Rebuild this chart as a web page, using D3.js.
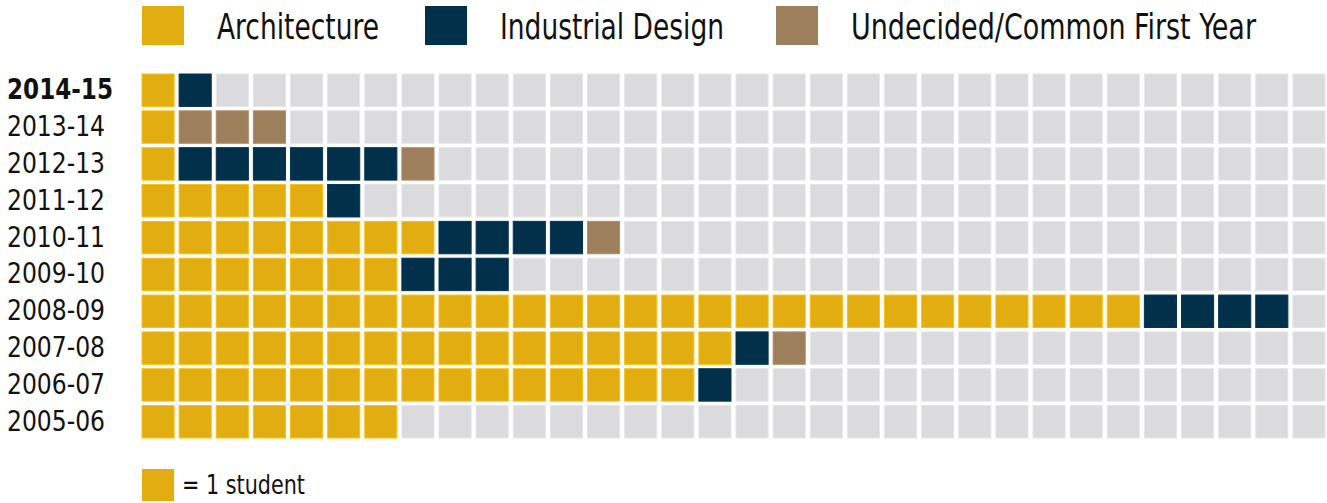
<!DOCTYPE html>
<html>
<head>
<meta charset="utf-8">
<script src="https://cdn.jsdelivr.net/npm/d3@7"></script>
<style>
  body { margin: 0; background: #fff; }
  text { font-family: "DejaVu Sans Condensed", "Roboto", sans-serif; fill: #111; }
</style>
</head>
<body>
<script>
const width = 1327;
const height = 503;

// one row per academic year, counts of students
const years = ["2014-15", "2013-14", "2012-13", "2011-12", "2010-11", "2009-10", "2008-09", "2007-08", "2006-07", "2005-06"];
const architecture = [1, 1, 1, 5, 8, 7, 27, 16, 15, 7];
const industrial = [1, 0, 6, 1, 4, 3, 4, 1, 1, 0];
const undecided = [0, 3, 1, 0, 1, 0, 0, 1, 0, 0];

const categories = ["Architecture", "Industrial Design", "Undecided/Common First Year"];
const colors = ["#e1ad11", "#01304a", "#9e7f5c"];
const emptyColor = "#dbdbdd";
const columns = 32;

const svg = d3.select("body")
  .append("svg")
  .attr("width", width)
  .attr("height", height);

const x = d3.scaleBand()
  .domain(d3.range(columns))
  .range([142, 1325])
  .paddingInner(0.135)
  .paddingOuter(0);

const y = d3.scaleBand()
  .domain(years)
  .range([74, 438])
  .paddingInner(0.12)
  .paddingOuter(0);

// build a cell list for each row: category index or -1 for empty
const cells = [];
years.forEach((year, r) => {
  const counts = [architecture[r], industrial[r], undecided[r]];
  let col = 0;
  counts.forEach((n, c) => {
    for (let k = 0; k < n; k++) cells.push({ year, col: col++, cat: c });
  });
  while (col < columns) cells.push({ year, col: col++, cat: -1 });
});

svg.append("g")
  .selectAll("rect")
  .data(cells)
  .join("rect")
  .attr("x", d => x(d.col))
  .attr("y", d => y(d.year))
  .attr("width", x.bandwidth())
  .attr("height", y.bandwidth())
  .attr("fill", d => d.cat < 0 ? emptyColor : colors[d.cat])
  .attr("stroke", d => d.cat < 0 ? "#e6e6e8" : d3.color(colors[d.cat]).brighter(0.3))
  .attr("stroke-width", 1);

// year labels
svg.append("g")
  .selectAll("text")
  .data(years)
  .join("text")
  .attr("x", 7)
  .attr("y", d => y(d) + y.bandwidth() / 2 + 1)
  .attr("dominant-baseline", "middle")
  .attr("font-size", "28px")
  .attr("font-weight", (d, i) => i === 0 ? "bold" : "normal")
  .attr("textLength", (d, i) => i === 0 ? 106 : 98)
  .attr("lengthAdjust", "spacingAndGlyphs")
  .text(d => d);

// legend at top
const legendX = [142, 425, 776];
const legendW = [162, 224, 405];
const legend = svg.append("g")
  .selectAll("g")
  .data(categories)
  .join("g")
  .attr("transform", (d, i) => `translate(${legendX[i]},6)`);

legend.append("rect")
  .attr("width", 42)
  .attr("height", 39)
  .attr("fill", (d, i) => colors[i]);

legend.append("text")
  .attr("x", 75)
  .attr("y", 33)
  .attr("font-size", "35px")
  .attr("textLength", (d, i) => legendW[i])
  .attr("lengthAdjust", "spacingAndGlyphs")
  .text(d => d);

// key
svg.append("rect")
  .attr("x", 142)
  .attr("y", 469)
  .attr("width", x.bandwidth())
  .attr("height", 32)
  .attr("fill", colors[0]);

svg.append("text")
  .attr("x", 182)
  .attr("y", 494)
  .attr("font-size", "27px")
  .attr("textLength", 123)
  .attr("lengthAdjust", "spacingAndGlyphs")
  .text("= 1 student");
</script>
</body>
</html>
